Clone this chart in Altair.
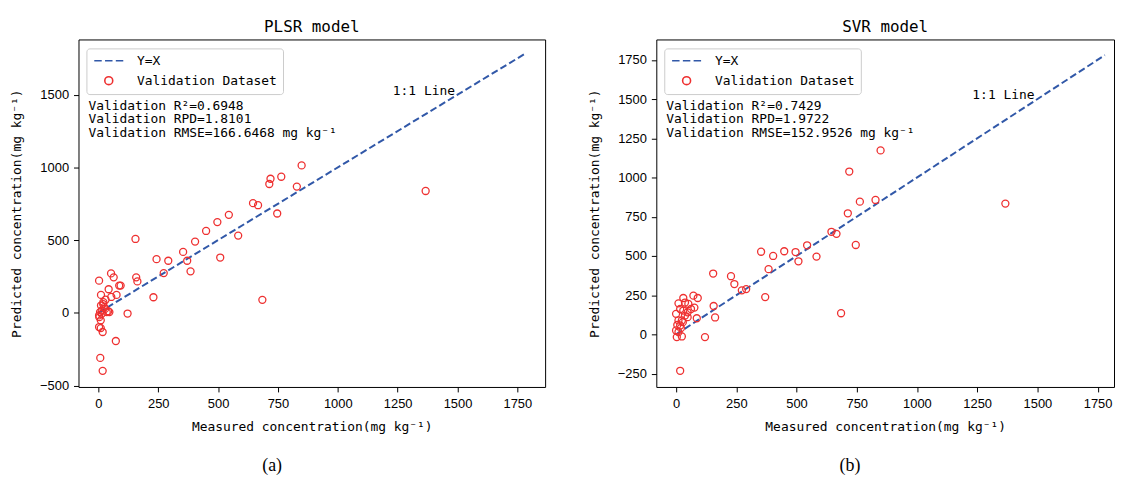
import altair as alt
import pandas as pd

# ---------------- data ----------------
plsr_measured = [1367, 849, 764, 719, 714, 829, 646, 667, 747, 545, 497, 450, 584, 404, 155,
                 354, 243, 292, 371, 509, 273, 385, 158, 163, 53, 64, 3, 43, 87, 93,
                 11, 54, 76, 230, 685, 122, 73, 8, 18, 11, 21, 28, 35, 46, 14,
                 3, 4, 10, 3, 10, 18, 14, 24, 41, 7, 30, 20]
plsr_predicted = [838, 1014, 936, 922, 886, 868, 754, 740, 683, 674, 624, 563, 531, 490, 508,
                  419, 369, 358, 358, 380, 273, 285, 244, 216, 271, 244, 221, 162, 187, 187,
                  123, 109, 123, 107, 89, -5, -194, -310, -399, 50, 73, 27, 5, 5, -7,
                  -18, -30, -52, -98, -105, -132, 16, 39, 11, 5, 90, 60]

svr_measured = [1367, 849, 763, 719, 713, 828, 645, 666, 746, 544, 496, 449, 583, 403, 154,
                353, 242, 291, 370, 508, 273, 384, 156, 162, 228, 685, 120, 17, 10, 30,
                37, 72, 90, 76, 86, 17, 0, 10, 17, 24, 48, 62, 48, 0, 3,
                24, 10, 28, 37, 30, 51, 20, 5]
svr_predicted = [834, 1173, 846, 1038, 772, 857, 654, 641, 570, 568, 525, 530, 496, 500, 388,
                 527, 321, 289, 238, 466, 281, 416, 181, 108, 371, 135, -17, -232, 198, 232,
                 203, 247, 232, 171, 103, 162, 131, 89, 57, 89, 141, 162, 110, 25, -17,
                 -13, 15, 78, 120, 152, 194, 40, 60]

x_ticks = [0, 250, 500, 750, 1000, 1250, 1500, 1750]
plsr_y_ticks = [-500, 0, 500, 1000, 1500]
svr_y_ticks = [-250, 0, 250, 500, 750, 1000, 1250, 1500, 1750]
line_ends = [0, 1780]
series_names = ["Y=X", "Validation Dataset"]

plsr_stats = ["Validation R²=0.6948", "Validation RPD=1.8101", "Validation RMSE=166.6468 mg kg⁻¹"]
svr_stats = ["Validation R²=0.7429", "Validation RPD=1.9722", "Validation RMSE=152.9526 mg kg⁻¹"]

MONO = "DejaVu Sans Mono"
RED = "#ee3030"
BLUE = "#3158a8"
DASH_PATH = "M-3.65,0L-1.77,0M-0.94,0L0.94,0M1.77,0L3.65,0"


def panel(title, measured, predicted, stats, caption, x_dom, y_dom, y_ticks, width):
    pts = pd.DataFrame({"measured": measured, "predicted": predicted,
                        "series": ["Validation Dataset"] * len(measured)})
    line = pd.DataFrame({"measured": line_ends, "predicted": line_ends})
    one = pd.DataFrame({"k": [0]})

    xs = alt.Scale(domain=x_dom, nice=False, zero=False)
    ys = alt.Scale(domain=y_dom, nice=False, zero=False)
    xax = alt.Axis(title="Measured concentration(mg kg⁻¹)", values=x_ticks, format="d",
                   labelFlush=False, titlePadding=10)
    yax = alt.Axis(title="Predicted concentration(mg kg⁻¹)", values=y_ticks, format="d",
                   labelFlush=False, minExtent=45, maxExtent=45, titlePadding=10)
    X = alt.X("measured:Q", scale=xs, axis=xax)
    Y = alt.Y("predicted:Q", scale=ys, axis=yax)

    legend = alt.Legend(title=None, orient="none", legendX=8, legendY=9,
                        symbolSize=64, symbolStrokeWidth=1.6, symbolOpacity=1,
                        labelFont=MONO, labelFontSize=13, labelColor="black", labelLimit=260,
                        padding=6, symbolOffset=10, labelOffset=22, rowPadding=5,
                        strokeColor="#cccccc", fillColor="rgba(255,255,255,0.8)",
                        cornerRadius=3)

    line_layer = alt.Chart(line).mark_line(color=BLUE, strokeWidth=2, strokeDash=[7, 3.3]).encode(
        x=X, y=Y)
    point_layer = alt.Chart(pts).mark_point(filled=False, size=50, strokeWidth=1.3, opacity=1).encode(
        x=X, y=Y,
        color=alt.Color("series:N", scale=alt.Scale(domain=series_names, range=[BLUE, RED]), legend=legend),
        shape=alt.Shape("series:N", scale=alt.Scale(domain=series_names, range=[DASH_PATH, "circle"]), legend=legend),
    )
    stats_layer = alt.Chart(one).mark_text(align="left", baseline="top", font=MONO, fontSize=13,
                                           lineHeight=13.5, color="black").encode(
        x=alt.value(10), y=alt.value(61), text=alt.value(stats))
    one_one = alt.Chart(one).mark_text(align="left", baseline="alphabetic", font=MONO, fontSize=13,
                                       color="black").encode(
        x=alt.datum(1230), y=alt.datum(1500), text=alt.value("1:1 Line"))
    title_layer = alt.Chart(one).mark_text(align="center", baseline="alphabetic", font=MONO,
                                           fontSize=16, color="black").encode(
        x=alt.value(width / 2), y=alt.value(-8), text=alt.value(title))
    cap = alt.Chart(one).mark_text(align="center", baseline="middle", font="Liberation Serif",
                                   fontSize=18, color="black").encode(
        x=alt.value(195), y=alt.value(430), text=alt.value(caption))

    return alt.layer(line_layer, point_layer, stats_layer, one_one, title_layer, cap).properties(
        width=width, height=350)


left = panel("PLSR model", plsr_measured, plsr_predicted, plsr_stats, "(a)",
             [-83, 1866], [-510, 1880], plsr_y_ticks, 470)
right = panel("SVR model", svr_measured, svr_predicted, svr_stats, "(b)",
              [-82, 1818], [-335, 1880], svr_y_ticks, 461)

chart = alt.hconcat(left, right, spacing=42).resolve_scale(
    color="independent", shape="independent").resolve_legend(
    color="independent", shape="independent").properties(
    padding={"left": 2, "top": 8, "right": 0, "bottom": 0}
).configure_view(stroke="black", strokeWidth=1).configure_axis(
    grid=False, domain=False, tickColor="black", tickSize=5, tickWidth=1,
    labelFont="Liberation Sans", labelFontSize=13, labelColor="black",
    titleFont=MONO, titleFontSize=13, titleFontWeight="normal", titleColor="black",
).configure_axisX(labelPadding=6).configure_axisY(labelPadding=5)

chart.save("out.html", embed_options={"renderer": "svg", "actions": False})
